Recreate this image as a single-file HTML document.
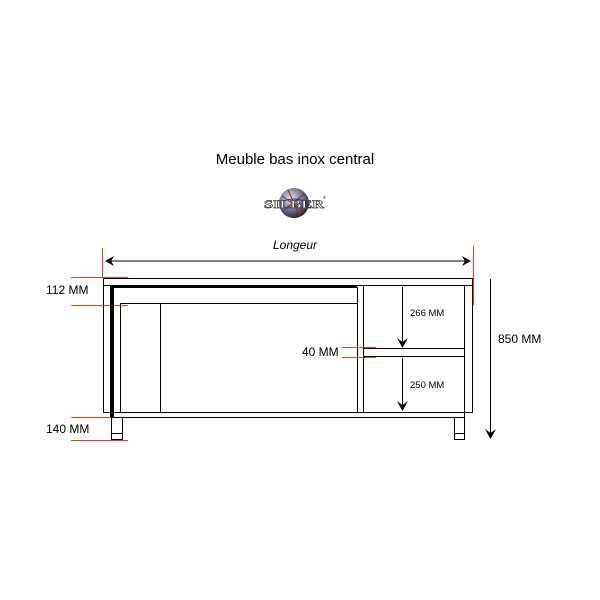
<!DOCTYPE html>
<html><head><meta charset="utf-8"><style>
html,body{margin:0;padding:0;background:#fff;width:600px;height:600px;overflow:hidden}
svg text{font-family:"Liberation Sans",sans-serif}
svg text.logo{font-family:"Liberation Serif",serif}
</style></head><body>
<svg width="600" height="600" viewBox="0 0 600 600" xmlns="http://www.w3.org/2000/svg">
<defs>
<radialGradient id="g" cx="0.4" cy="0.35" r="0.7">
<stop offset="0" stop-color="#e8e8ee"/><stop offset="0.5" stop-color="#7a7f9a"/><stop offset="1" stop-color="#1a1a2a"/>
</radialGradient>
</defs>
<text x="295" y="164" font-size="15" text-anchor="middle" fill="#000">Meuble bas inox central</text>
<!-- logo -->
<circle cx="294" cy="203" r="15" fill="url(#g)"/>
<path d="M282 196 L305 212 M284 210 L304 194 M288 190 L300 216" stroke="#a02030" stroke-width="1" fill="none"/>
<path d="M280 203 Q294 195 308 203" stroke="#303a80" stroke-width="1" fill="none"/>
<text class="logo" x="264" y="208" font-size="12" font-weight="bold" textLength="60" lengthAdjust="spacingAndGlyphs" fill="#fff" stroke="#444" stroke-width="0.7">SILBER</text>
<text x="323" y="199" font-size="4" fill="#000">®</text>

<!-- Longeur -->
<text x="295" y="249" font-size="12" font-style="italic" text-anchor="middle" fill="#000">Longeur</text>
<line x1="110" y1="261" x2="466" y2="261" stroke="#000" stroke-width="1"/>
<path d="M105 261 L114 256 L111 261 L114 266 Z" fill="#000"/>
<path d="M471 261 L462 256 L465 261 L462 266 Z" fill="#000"/>

<!-- red lines -->
<g stroke="#e8401c" stroke-width="1" fill="none">
<line x1="102.5" y1="248" x2="102.5" y2="277"/>
<line x1="473.5" y1="246" x2="473.5" y2="305"/>
<line x1="71" y1="277.5" x2="128" y2="277.5"/>
<line x1="71" y1="305.5" x2="128" y2="305.5"/>
<line x1="71" y1="417.5" x2="128" y2="417.5"/>
<line x1="71" y1="440.5" x2="128" y2="440.5"/>
<line x1="342" y1="347.5" x2="376" y2="347.5"/>
<line x1="342" y1="357.5" x2="376" y2="357.5"/>
</g>

<!-- cabinet -->
<g stroke="#000" stroke-width="1" fill="none">
<rect x="103.5" y="278.5" width="369" height="134"/>
<line x1="103.5" y1="285.5" x2="472.5" y2="285.5"/>
<line x1="112" y1="412.5" x2="112" y2="418"/>
<line x1="111.5" y1="417.5" x2="464.5" y2="417.5"/>
<line x1="464.5" y1="285.5" x2="464.5" y2="418"/>
<line x1="120.5" y1="303.5" x2="120.5" y2="412.5"/>
<line x1="160.5" y1="303.5" x2="160.5" y2="412.5"/>
<line x1="120.5" y1="303.5" x2="357.5" y2="303.5"/>
<line x1="357.5" y1="287" x2="357.5" y2="412.5"/>
<line x1="363.5" y1="285.5" x2="363.5" y2="412.5"/>
<line x1="363.5" y1="348.5" x2="464.5" y2="348.5"/>
<line x1="363.5" y1="356.5" x2="464.5" y2="356.5"/>
<rect x="111.5" y="417.5" width="11" height="22"/>
<line x1="111.5" y1="433.5" x2="122.5" y2="433.5"/>
<rect x="454.5" y="417.5" width="10" height="22"/>
<line x1="454.5" y1="433.5" x2="464.5" y2="433.5"/>
</g>
<rect x="110" y="286" width="4" height="131" fill="#000"/>
<rect x="110" y="286" width="247" height="2" fill="#000"/>

<!-- inner arrows -->
<g stroke="#000" stroke-width="1">
<line x1="402.5" y1="287" x2="402.5" y2="344"/>
<line x1="402.5" y1="358" x2="402.5" y2="406"/>
<line x1="490.5" y1="279" x2="490.5" y2="434"/>
</g>
<path d="M402.5 348 L397 338 L402.5 342 L408 338 Z" fill="#000"/>
<path d="M402.5 411 L397 401 L402.5 405 L408 401 Z" fill="#000"/>
<path d="M490.5 439 L485 429 L490.5 433 L496 429 Z" fill="#000"/>

<g font-size="9.5" fill="#000">
<text x="410" y="316">266 MM</text>
<text x="410" y="388">250 MM</text>
</g>
<g font-size="12" fill="#000">
<text x="302" y="356">40 MM</text>
<text x="46" y="294">112 MM</text>
<text x="46" y="433">140 MM</text>
<text x="498" y="343">850 MM</text>
</g>
</svg>
</body></html>
